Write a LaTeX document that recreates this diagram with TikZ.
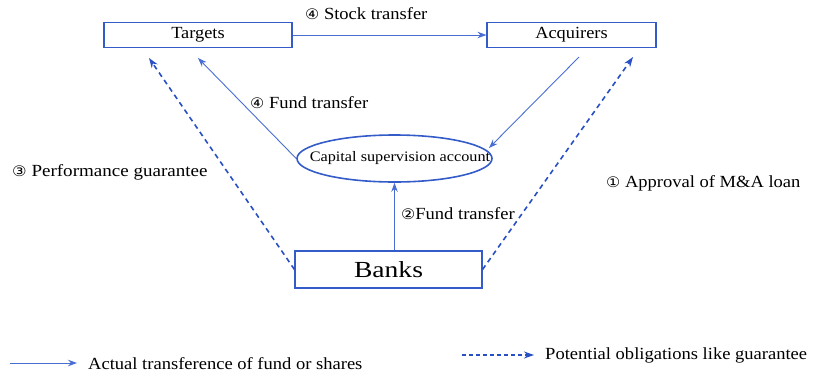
\documentclass[tikz,border=0pt]{standalone}
\usepackage{fontspec}
\setmainfont{Liberation Serif}
\newfontfamily\circfont{DejaVu Sans}
\usetikzlibrary{arrows.meta,shapes.geometric}
\definecolor{boxblue}{RGB}{52,92,200}
\definecolor{lineblue}{RGB}{72,110,212}
\definecolor{dashblue}{RGB}{40,80,196}
% circled step numbers and horizontally widened text
\newcommand{\cnum}[1]{{\circfont\fontsize{14.5}{16}\selectfont #1}}
\newcommand{\widetxt}[2]{\scalebox{#1}[1]{#2}}
\tikzset{
  box/.style={draw=boxblue, line width=1.1pt, inner sep=0pt, font=\fontsize{17}{19}\selectfont},
  flow/.style={draw=lineblue, line width=0.9pt, -{Stealth[length=9pt,width=6.5pt]}},
  duty/.style={draw=dashblue, line width=1.6pt, dash pattern=on 5pt off 4pt, -{Stealth[length=10pt,width=7pt]}},
  lbl/.style={font=\fontsize{17}{19}\selectfont, inner sep=0pt, anchor=west}
}
\begin{document}
\begin{tikzpicture}[x=1pt,y=-1pt]
\useasboundingbox (0,0) rectangle (815,373);

% parties
\node[box, minimum width=188pt, minimum height=25pt] (targets) at (198,35) {\widetxt{1.08}{Targets}};
\node[box, minimum width=169pt, minimum height=25pt] (acquirers) at (571.5,35) {\widetxt{1.08}{Acquirers}};
% the ellipse keeps its own size; its text may run onto the outline
\node[draw=boxblue, line width=1.6pt, ellipse, minimum width=195pt, minimum height=47pt, inner sep=0pt,
      font=\fontsize{14.5}{16}\selectfont] (cap) at (394.5,158.5)
      {\makebox[0pt]{\kern11pt\widetxt{1.12}{Capital supervision account}}};
\node[box, minimum width=187pt, minimum height=37pt, font=\fontsize{23}{27}\selectfont] (banks) at (388.5,269.5) {\widetxt{1.2}{Banks}};

% free ends of the connectors
\coordinate (tgtFund) at (198,58);
\coordinate (tgtGuar) at (149,58);
\coordinate (acqOut) at (579,57);
\coordinate (capIn) at (489,148);
\coordinate (acqLoan) at (633,57);

% transfers
\draw[flow] (targets.east) -- (acquirers.west);
\draw[flow] (cap.west) -- (tgtFund);
\draw[flow] (acqOut) -- (capIn);
\draw[flow] (cap.south |- banks.north) -- (cap.south);

% obligations
\draw[duty] (banks.west) -- (tgtGuar);
\draw[duty] (banks.east) -- (acqLoan);

% labels
\node[lbl] (lStock) at (305,14) {\widetxt{1.09}{\cnum{④} Stock transfer}};
\node[lbl] (lFund) at (250,103) {\widetxt{1.09}{\cnum{④} Fund transfer}};
\node[lbl] (lPerf) at (12,172) {\widetxt{1.12}{\cnum{③} Performance guarantee}};
\node[lbl] (lLoan) at (606,183) {\widetxt{1.09}{\cnum{①} Approval of M\&A loan}};
\node[lbl] (lFund2) at (401,214) {\widetxt{1.09}{\cnum{②}Fund transfer}};

% legend
\coordinate (lgA) at (10,363);
\coordinate (lgB) at (77,363);
\coordinate (lgC) at (462,355);
\coordinate (lgD) at (534,355);
\draw[flow, line width=1pt] (lgA) -- (lgB);
\draw[duty, line width=1.2pt, dash pattern=on 4pt off 3pt] (lgC) -- (lgD);
\node[lbl] (lgActual) at (88,364) {\widetxt{1.09}{Actual transference of fund or shares}};
\node[lbl] (lgPotential) at (545,355) {\widetxt{1.09}{Potential obligations like guarantee}};
\end{tikzpicture}
\end{document}
